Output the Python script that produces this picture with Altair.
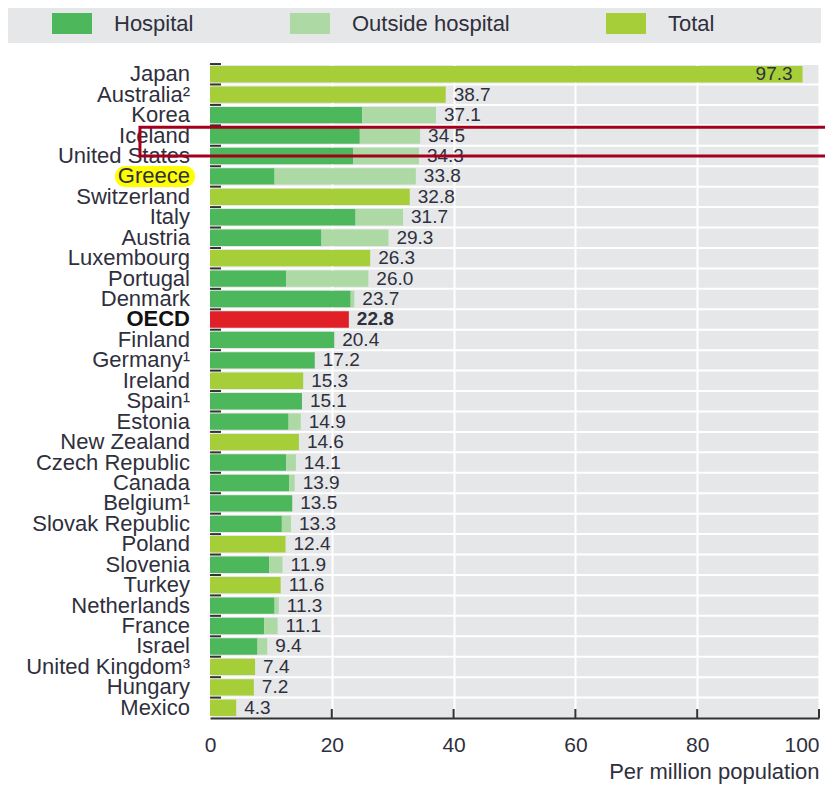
import altair as alt
import pandas as pd

countries = ["Japan", "Australia²", "Korea", "Iceland", "United States", "Greece",
             "Switzerland", "Italy", "Austria", "Luxembourg", "Portugal", "Denmark",
             "OECD", "Finland", "Germany¹", "Ireland", "Spain¹", "Estonia", "New Zealand",
             "Czech Republic", "Canada", "Belgium¹", "Slovak Republic", "Poland",
             "Slovenia", "Turkey", "Netherlands", "France", "Israel", "United Kingdom³",
             "Hungary", "Mexico"]
totals = [97.3, 38.7, 37.1, 34.5, 34.3, 33.8, 32.8, 31.7, 29.3, 26.3, 26.0, 23.7,
          22.8, 20.4, 17.2, 15.3, 15.1, 14.9, 14.6, 14.1, 13.9, 13.5, 13.3, 12.4,
          11.9, 11.6, 11.3, 11.1, 9.4, 7.4, 7.2, 4.3]
# hospital share (None = only a total is available)
hospital = [None, None, 25.0, 24.6, 23.5, 10.6, None, 23.9, 18.3, None, 12.5, 23.1,
            None, 20.4, 17.2, None, 15.1, 12.9, None, 12.5, 13.0, 13.5, 11.8, None,
            9.7, None, 10.6, 8.9, 7.8, None, None, None]

types = ["Hospital", "Outside hospital", "Total", "OECD"]
colors = ["#4cb75b", "#acd9a4", "#a6ce39", "#e01f26"]
x_ticks = [0, 20, 40, 60, 80, 100]
highlight = ["Greece"]
annot_rows = ["Iceland", "United States"]
annot_x = [-11.5, 105]

W, H = 609, 654
FONT = "Liberation Sans"
TXT = "#2f2f3d"

rows = []
for c, t, h in zip(countries, totals, hospital):
    if c == "OECD":
        rows.append(dict(country=c, type="OECD", start=0, end=t))
    elif h is None:
        rows.append(dict(country=c, type="Total", start=0, end=t))
    else:
        rows.append(dict(country=c, type="Hospital", start=0, end=h))
        if t > h:
            rows.append(dict(country=c, type="Outside hospital", start=h, end=t))
bars_df = pd.DataFrame(rows)
lab_df = pd.DataFrame({"country": countries, "total": totals})
lab_df["label"] = [f"{v:.1f}" for v in totals]

yscale = alt.Scale(domain=countries, paddingInner=0.2, paddingOuter=0.1)
xscale = alt.Scale(domain=[0, 100], nice=False)

def Yc(field="country:N", **kw):
    return alt.Y(field, scale=yscale, axis=None, **kw)

bars = alt.Chart(bars_df).mark_rect().encode(
    x=alt.X("start:Q", scale=xscale, axis=alt.Axis(
        values=x_ticks, grid=True, gridColor="white", gridWidth=2, ticks=False,
        domainColor="#333", domainWidth=2, labelFontSize=21, labelColor=TXT,
        labelPadding=16, labelAlign=alt.condition("datum.value == 100", alt.value("right"), alt.value("center")),
        title="Per million population", titleAnchor="end", titleFontSize=22,
        titleFontWeight="normal", titleColor=TXT, titlePadding=6)),
    x2="end:Q",
    y=alt.Y("country:N", scale=yscale, axis=alt.Axis(
        labels=False, ticks=False, domain=True, domainColor="#333", domainWidth=2,
        grid=False, title=None)),
    color=alt.Color("type:N", scale=alt.Scale(domain=types, range=colors), legend=alt.Legend(
        orient="none", legendX=-158, legendY=-60.5, direction="horizontal", title=None,
        values=types[:3], symbolType="M-1,-0.525H1V0.525H-1Z", symbolSize=1600,
        symbolStrokeWidth=0, symbolOpacity=1, labelFontSize=22, labelColor=TXT,
        labelOffset=22, columnPadding=96, padding=0,
        labelExpr="datum.label == 'Outside hospital' ? 'Outside hospital\u00a0' : datum.label")),
)

legend_band = alt.Chart(pd.DataFrame({"a": [0]})).mark_rect(color="#e6e7e8").encode(
    x=alt.value(-210), x2=alt.value(611), y=alt.value(-61), y2=alt.value(-21))

row_grid = alt.Chart(pd.DataFrame({"country": countries})).mark_rule(
    color="white", strokeWidth=2, yOffset=-2).encode(
    x=alt.datum(0, scale=xscale), x2=alt.datum(100), y=Yc(bandPosition=0))

hl = alt.Chart(pd.DataFrame({"country": highlight})).mark_rect(
    color="#ffff00", cornerRadius=10, height=21, xOffset=-95, x2Offset=-15).encode(
    x=alt.datum(0), x2=alt.datum(0), y=Yc())

yticks = alt.Chart(pd.DataFrame({"country": countries})).mark_rule(
    color="#333", strokeWidth=2, yOffset=-2, x2Offset=11).encode(
    x=alt.datum(0), x2=alt.datum(0), y=Yc(bandPosition=0))

xticks = alt.Chart(pd.DataFrame({"v": x_ticks[1:]})).mark_rule(
    color="#333", strokeWidth=2).encode(
    x="v:Q", y=alt.value(H), y2=alt.value(H - 9))

vals = alt.Chart(lab_df).transform_filter(
    "datum.country != 'OECD' && datum.total < 90").mark_text(
    align="left", baseline="middle", dx=8, fontSize=19, color=TXT).encode(
    x="total:Q", y=Yc(), text="label:N")
vals_oecd = alt.Chart(lab_df).transform_filter("datum.country == 'OECD'").mark_text(
    align="left", baseline="middle", dx=8, fontSize=19, fontWeight="bold", color=TXT).encode(
    x="total:Q", y=Yc(), text="label:N")
vals_in = alt.Chart(lab_df).transform_filter("datum.total >= 90").mark_text(
    align="right", baseline="middle", dx=-10, fontSize=19, color=TXT).encode(
    x="total:Q", y=Yc(), text="label:N")

ylab = alt.Chart(lab_df).transform_filter("datum.country != 'OECD'").mark_text(
    align="right", baseline="middle", dx=-20, fontSize=22, color=TXT).encode(
    x=alt.datum(0), y=Yc(), text="country:N")
ylab_b = alt.Chart(lab_df).transform_filter("datum.country == 'OECD'").mark_text(
    align="right", baseline="middle", dx=-20, fontSize=22, fontWeight="bold", color="#111").encode(
    x=alt.datum(0), y=Yc(), text="country:N")

annot = alt.Chart(pd.DataFrame({"top": [annot_rows[0]], "bottom": [annot_rows[1]],
                                "x0": [annot_x[0]], "x1": [annot_x[1]]})).mark_rect(
    fillOpacity=0, stroke="#a3001e", strokeWidth=3).encode(
    x="x0:Q", x2="x1:Q",
    y=alt.Y("top:N", scale=yscale, axis=None, bandPosition=0),
    y2=alt.Y2("bottom:N", bandPosition=0.5))

chart = alt.layer(legend_band, row_grid, hl, bars, yticks, xticks, vals, vals_oecd,
                  vals_in, ylab, ylab_b, annot).properties(
    width=W, height=H,
    padding={"left": 202, "top": 56, "right": 6, "bottom": 68},
    autosize=alt.AutoSizeParams(type="none"),
).configure(font=FONT).configure_view(fill="#e6e7e8", strokeWidth=0)

chart.save("out.html", embed_options={"renderer": "svg", "actions": False})
